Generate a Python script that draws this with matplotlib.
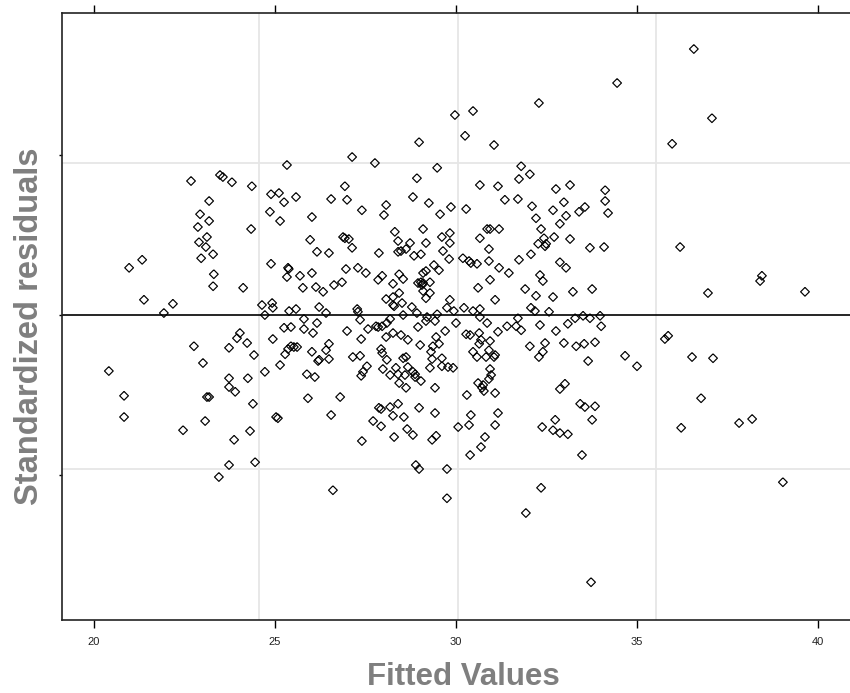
import matplotlib
matplotlib.use("Agg")
import matplotlib.pyplot as plt
import numpy as np

# Fitted values (x) and standardized residuals (y)
fitted = [
    20.41, 20.83, 20.83, 20.97, 21.33, 21.38, 21.93, 22.18, 22.46, 22.68,
    22.76, 22.87, 22.90, 22.93, 22.96, 23.01, 23.09, 23.12, 23.12, 23.18,
    23.18, 23.18, 23.29, 23.31, 23.29, 23.07, 23.45, 23.48, 23.56, 23.73,
    23.73, 23.73, 23.73, 23.81, 23.87, 23.95, 24.03, 24.12, 24.23, 24.25,
    23.90, 24.31, 24.34, 24.36, 24.45, 24.39, 24.42, 24.64, 24.72, 24.72,
    24.86, 24.89, 24.89, 24.92, 24.94, 24.94, 25.03, 25.08, 25.11, 25.14,
    25.14, 25.25, 25.25, 25.28, 25.33, 25.33, 25.36, 25.38, 25.36, 25.39,
    25.44, 25.44, 25.52, 25.58, 25.58, 25.61, 25.69, 25.77, 25.80, 25.80,
    25.88, 25.91, 25.97, 26.02, 26.02, 26.05, 26.10, 26.13, 26.16, 26.16,
    26.19, 26.22, 26.22, 26.33, 26.41, 26.41, 26.49, 26.49, 26.49, 26.55,
    26.63, 26.80, 26.85, 26.88, 26.93, 26.96, 26.99, 27.04, 27.13, 27.15,
    27.27, 27.29, 27.29, 27.35, 27.35, 27.38, 27.38, 27.43, 27.51, 27.54,
    27.57, 27.79, 27.85, 27.85, 27.87, 27.87, 27.93, 27.93, 27.96, 27.96,
    27.96, 27.98, 28.07, 28.07, 28.09, 28.09, 28.18, 28.18, 28.18, 28.26,
    28.26, 28.26, 28.26, 28.26, 28.29, 28.31, 28.34, 28.40, 28.40, 28.40,
    28.40, 28.43, 28.43, 28.43, 28.48, 28.48, 28.51, 28.54, 28.54, 28.54,
    28.56, 28.59, 28.62, 28.62, 28.62, 28.67, 28.67, 28.73, 28.78, 28.81,
    28.84, 28.87, 28.87, 28.92, 28.95, 28.95, 28.98, 29.01, 29.03, 29.03,
    29.03, 29.06, 29.09, 29.09, 29.09, 29.09, 29.17, 29.17, 29.17, 29.17,
    29.20, 29.28, 29.28, 29.28, 29.31, 29.34, 29.36, 29.39, 29.42, 29.42,
    29.42, 29.45, 29.48, 29.53, 29.53, 29.61, 29.61, 29.61, 29.64, 29.70,
    29.75, 29.78, 29.81, 29.83, 29.83, 29.83, 29.92, 29.94, 30.00, 30.19,
    30.22, 30.28, 30.30, 30.36, 30.41, 30.39, 30.41, 30.47, 30.47, 30.58,
    30.58, 30.61, 30.61, 30.64, 30.64, 30.66, 30.66, 30.66, 30.69, 30.72,
    30.75, 30.77, 30.83, 30.86, 30.86, 30.91, 30.91, 30.91, 30.91, 30.94,
    30.94, 30.94, 30.94, 30.97, 31.05, 31.08, 31.08, 31.08, 31.16, 31.16,
    31.19, 31.19, 29.97, 30.47, 30.25, 28.98, 31.05, 29.48, 28.92, 30.66,
    31.16, 31.80, 31.74, 32.04, 27.13, 27.76, 26.93, 26.55, 26.99, 26.02,
    28.07, 28.01, 28.81, 29.25, 29.86, 30.28, 29.56, 27.40, 32.29, 34.45,
    36.57, 37.07, 35.97, 32.76, 33.15, 34.12, 34.12, 34.20, 32.98, 32.68,
    33.04, 33.40, 33.56, 32.87, 32.71, 33.15, 33.70, 34.09, 36.19, 31.35,
    31.71, 32.10, 32.21, 32.35, 32.43, 32.49, 32.46, 32.27, 32.07, 31.74,
    32.87, 33.04, 32.32, 32.40, 31.46, 31.91, 32.21, 32.07, 32.18, 31.71,
    32.57, 32.68, 33.23, 33.76, 33.98, 31.41, 31.66, 31.80, 32.32, 32.46,
    32.40, 32.29, 32.04, 32.76, 33.09, 33.29, 33.51, 33.70, 33.32, 33.54,
    33.84, 34.01, 33.65, 33.01, 32.87, 33.43, 33.56, 32.74, 32.68, 32.87,
    33.09, 32.38, 33.84, 33.76, 33.48, 32.35, 31.93, 32.98, 36.96, 38.40,
    38.45, 39.64, 35.77, 35.86, 34.67, 35.00, 36.52, 37.10, 36.77, 36.22,
    37.82, 38.18, 39.03, 33.73, 26.60, 27.40, 27.71, 27.93, 28.29, 28.65,
    28.89, 28.98, 29.34, 29.45, 29.75, 29.75, 30.06, 30.36, 30.69, 30.80,
    28.81, 30.39, 31.08,
]
residuals = [
    -0.70, -1.01, -1.275, 0.59, 0.69, 0.19, 0.025, 0.14, -1.44, 1.675,
    -0.39, 1.10, 0.91, 1.26, 0.71, -0.60, 0.85, 0.975, -1.025, -1.025,
    1.425, 1.175, 0.76, 0.51, 0.36, -1.325, -2.025, 1.75, 1.725, -0.41,
    -0.79, -0.90, -1.875, 1.66, -1.56, -0.29, -0.225, 0.34, -0.35, -0.79,
    -0.96, -1.45, 1.075, 1.61, -1.84, -1.11, -0.50, 0.125, 0.00, -0.71,
    1.29, 1.51, 0.64, 0.15, 0.09, -0.30, -1.275, -1.29, 1.525, 1.175,
    -0.625, 1.41, -0.16, -0.49, 1.875, 0.475, 0.59, 0.575, -0.425, 0.05,
    -0.15, -0.39, -0.40, 1.475, 0.075, -0.40, 0.49, 0.34, -0.05, -0.175,
    -0.74, -1.04, 0.94, 0.525, -0.46, -0.225, -0.775, 0.35, 0.79, -0.10,
    -0.575, -0.56, 0.10, 0.29, 0.025, -0.44, 0.775, -0.36, -0.55, -1.25,
    0.375, -1.025, 0.41, 0.975, 0.96, 0.575, -0.20, 0.95, 0.84, -0.525,
    0.075, 0.04, 0.59, -0.06, -0.51, -0.30, -0.76, -0.71, 0.525, -0.64,
    -0.175, -0.14, -0.15, 0.44, 0.775, -1.16, -1.175, -0.425, -0.14, 0.49,
    -0.475, -0.675, -0.275, 0.20, -0.10, -0.56, -0.05, -0.75, -1.15, 0.39,
    0.225, 0.125, -0.225, -1.26, 0.11, 1.04, -0.66, 0.925, 0.79, -0.74,
    -1.11, 0.51, 0.275, -0.85, 0.80, -0.25, 0.15, 0.45, 0.00, -0.54,
    -1.275, -0.75, 0.825, -0.525, -0.91, -0.31, -0.65, 0.90, 0.10, -0.71,
    0.74, -0.74, -0.775, 0.025, 0.40, -0.15, -1.16, -0.375, 0.76, 0.41,
    -0.825, 0.375, 1.075, 0.525, 0.40, 0.30, 0.90, 0.55, 0.21, -0.075,
    -0.025, 0.41, 0.275, -0.66, -0.46, -0.55, -0.39, 0.625, -0.075, -0.91,
    -1.225, -0.275, 0.01, 0.56, -0.36, 0.975, -0.54, -0.64, 0.80, -0.20,
    0.09, -0.65, 0.70, 1.025, 0.90, 0.19, -0.66, 0.05, -0.10, 0.71,
    0.09, -0.24, -1.00, 0.675, 0.65, -0.25, -1.25, 0.05, -0.46, 0.64,
    -0.525, 0.34, -0.85, -0.225, -0.36, 0.96, 0.075, -0.025, -0.31, -0.91,
    -0.875, -0.95, -0.525, 1.075, -0.10, 0.825, 0.675, -0.44, -0.80, 1.075,
    0.44, -0.325, -0.675, -0.75, -0.525, -0.50, 0.19, -0.975, -0.21, -1.225,
    1.075, 0.59, 2.50, 2.55, 2.24, 2.16, 2.125, 1.84, 1.71, 1.625,
    1.61, 1.86, 1.70, 1.76, 1.975, 1.90, 1.61, 1.45, 1.44, 1.225,
    1.375, 1.25, 1.475, 1.40, 1.35, 1.325, 1.26, 1.31, 2.65, 2.90,
    3.325, 2.46, 2.14, 1.575, 1.625, 1.56, 1.425, 1.275, 1.41, 1.31,
    1.24, 1.29, 1.35, 1.14, 0.975, 0.95, 0.84, 0.85, 0.85, 1.44,
    1.45, 1.36, 1.21, 1.075, 0.96, 0.89, 0.86, 0.89, 0.76, 0.69,
    0.66, 0.59, 0.50, 0.425, 0.525, 0.325, 0.24, 0.09, 0.05, -0.04,
    0.04, 0.225, 0.29, 0.325, -0.01, -0.14, -0.14, -0.19, -0.125, -0.35,
    -0.46, -0.525, -0.39, -0.20, -0.11, -0.04, -0.01, -0.04, -0.39, -0.36,
    -0.34, -0.14, -0.575, -0.86, -0.925, -1.11, -1.15, -1.31, -1.44, -1.475,
    -1.49, -1.40, -1.14, -1.31, -1.75, -2.16, -2.475, -0.35, 0.275, 0.425,
    0.49, 0.29, -0.30, -0.26, -0.51, -0.64, -0.525, -0.54, -1.04, -1.41,
    -1.35, -1.30, -2.09, -3.34, -2.19, -1.575, -1.325, -1.39, -1.525, -1.425,
    -1.875, -1.925, -1.56, -1.51, -1.925, -2.29, -1.40, -1.375, -1.65, -1.525,
    -1.50, -1.75, -1.375,
]

x_ticks = [20, 25, 30, 35, 40]
x_ticklabels = ["20", "25", "30", "35", "40"]
y_ticks = [-2, 0, 2]
grid_x = [24.56, 30.06, 35.52]
grid_y = [-1.925, 1.90]

plt.rcParams['font.family'] = ['Liberation Sans', 'DejaVu Sans']

W, H = 850, 693
fig = plt.figure(figsize=(W / 100, H / 100), dpi=100)
ax = fig.add_axes([62 / W, 73 / H, (852 - 62) / W, (620 - 13) / H])

ax.set_xlim(19.116, 40.939)
ax.set_ylim(-3.8125, 3.775)

for gx in grid_x:
    ax.axvline(gx, color='#e6e6e6', lw=1.3, zorder=0)
for gy in grid_y:
    ax.axhline(gy, color='#e6e6e6', lw=1.3, zorder=0)
ax.axhline(0, color='black', lw=1.2, zorder=1)

diamond = [(0, 1), (1, 0), (0, -1), (-1, 0), (0, 1)]
ax.scatter(fitted, residuals, marker=diamond, s=6.3 ** 2, facecolors='none',
           edgecolors='black', linewidths=0.85, zorder=2)

ax.set_xticks(x_ticks)
ax.set_xticklabels(x_ticklabels)
ax.set_yticks(y_ticks)
ax.set_yticklabels([])
ax.tick_params(axis='x', which='both', direction='out', length=6, width=1.0,
               pad=6, labelsize=8, labelcolor='#222222', top=True, labeltop=False)
ax.tick_params(axis='y', direction='out', length=2.5, width=1.0, left=True, right=False)

for side in ['left', 'bottom', 'top', 'right']:
    ax.spines[side].set_linewidth(1.2)
    ax.spines[side].set_color('#222222')

fig.text(463 / W, (H - 685) / H, "Fitted Values", ha='center', va='baseline',
         fontsize=22.5, fontweight='bold', color='#7f7f7f')
fig.text(30 / W, (H - 326) / H, "Standardized residuals", ha='center', va='center',
         rotation=90, fontsize=23.5, fontweight='bold', color='#7f7f7f')

fig.savefig("out.png", dpi=100)
